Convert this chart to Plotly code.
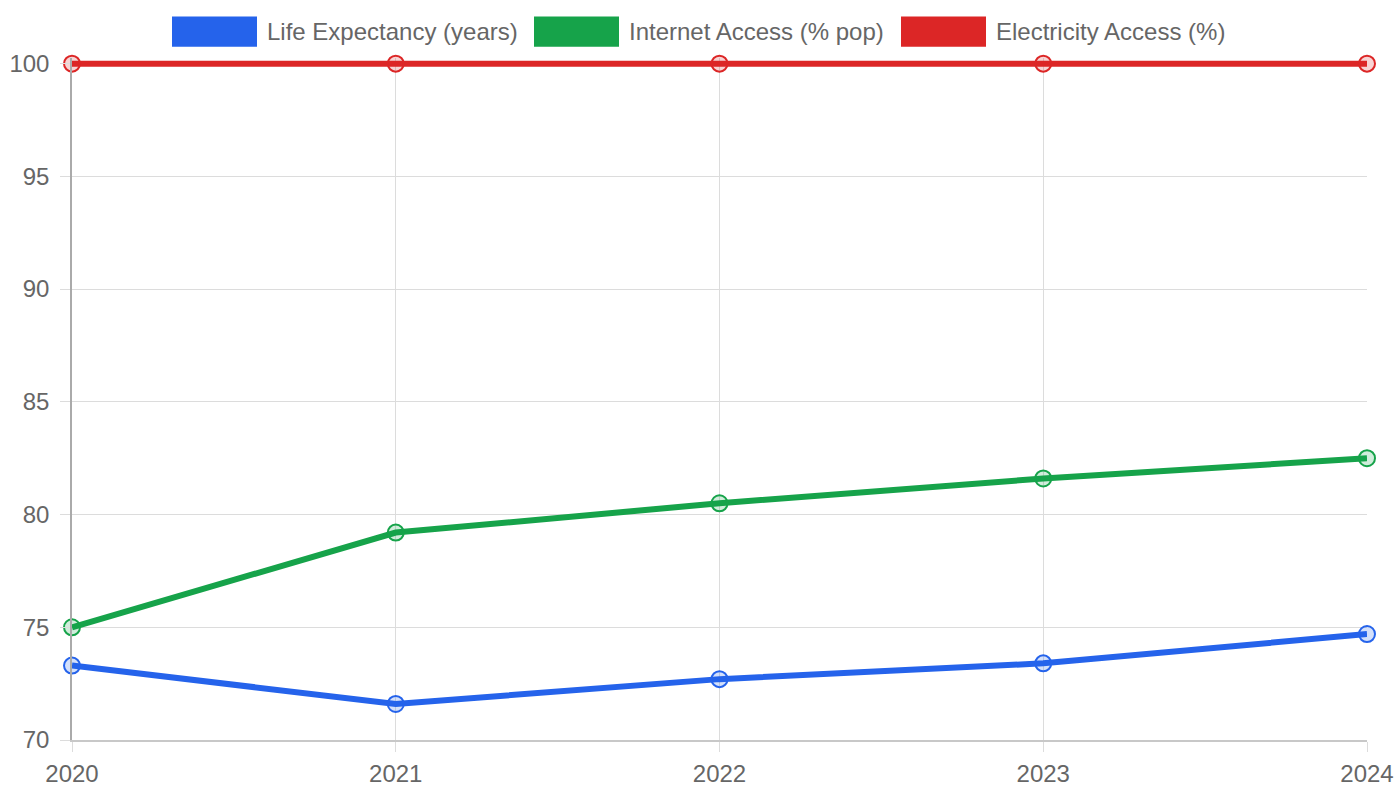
import plotly.graph_objects as go

years = [2020, 2021, 2022, 2023, 2024]
life_expectancy = [73.3, 71.6, 72.7, 73.4, 74.7]
internet_access = [75.0, 79.2, 80.5, 81.6, 82.5]
electricity_access = [100, 100, 100, 100, 100]

series = [
    ("Life Expectancy (years)", life_expectancy, "#2563eb", "rgba(37,99,235,0.2)"),
    ("Internet Access (% pop)", internet_access, "#16a34a", "rgba(22,163,74,0.2)"),
    ("Electricity Access (%)", electricity_access, "#dc2626", "rgba(220,38,38,0.2)"),
]

FONT = "Liberation Sans, Arial, sans-serif"
fig = go.Figure()
for name, vals, col, fill in reversed(series):
    fig.add_trace(go.Scatter(
        x=years, y=vals, name=name, mode="lines+markers",
        line=dict(color=col, width=6),
        marker=dict(size=16, color=fill, line=dict(color=col, width=2)),
        cliponaxis=False, showlegend=False,
    ))

# plot geometry: y=100 at px 64, y=70 at px 740
Y_TOP_EXTRA = 0.25  # small headroom so the 100% line is not clipped
px_per_unit = 676 / 30
top_margin = 64 - Y_TOP_EXTRA * px_per_unit
plot_h = 740 - top_margin

def py(p):
    return (740 - p) / plot_h

legend_boxes = [(172, 257, 265), (534, 619, 627), (901, 986, 994)]
shapes = []
annotations = []
for (x0, x1, tx), (name, _, col, _) in zip(legend_boxes, series):
    shapes.append(dict(type="rect", xref="paper", yref="paper",
                       x0=(x0 - 72) / 1295, x1=(x1 - 72) / 1295,
                       y0=py(47), y1=py(17),
                       fillcolor=col, line=dict(width=0), layer="above"))
    annotations.append(dict(xref="paper", yref="paper", x=(tx - 72) / 1295,
                            y=py(32), text=name, showarrow=False,
                            xanchor="left", yanchor="middle",
                            font=dict(family=FONT, size=24, color="#666666")))

fig.update_layout(
    width=1400, height=800,
    margin=dict(l=72, r=33, t=top_margin, b=60, autoexpand=False),
    plot_bgcolor="white", paper_bgcolor="white",
    font=dict(family=FONT, size=24, color="#666666"),
    shapes=shapes, annotations=annotations,
    showlegend=False,
)
fig.update_xaxes(
    range=[2020, 2024], tickvals=years, ticktext=[str(y) for y in years],
    showgrid=True, gridcolor="#dcdcdc", gridwidth=1,
    ticks="outside", ticklen=10, tickcolor="#dcdcdc",
    showline=True, linecolor="#c8c8c8", linewidth=1.5,
    zeroline=False, ticklabelstandoff=1, automargin=False,
)
fig.update_yaxes(
    range=[70, 100 + Y_TOP_EXTRA], tickvals=[70, 75, 80, 85, 90, 95, 100],
    showgrid=True, gridcolor="#dcdcdc", gridwidth=1,
    ticks="outside", ticklen=10, tickcolor="#dcdcdc",
    showline=True, linecolor="#aaaaaa", linewidth=1.5,
    zeroline=False, ticklabelstandoff=6, automargin=False,
)

fig.write_html("out.html")
